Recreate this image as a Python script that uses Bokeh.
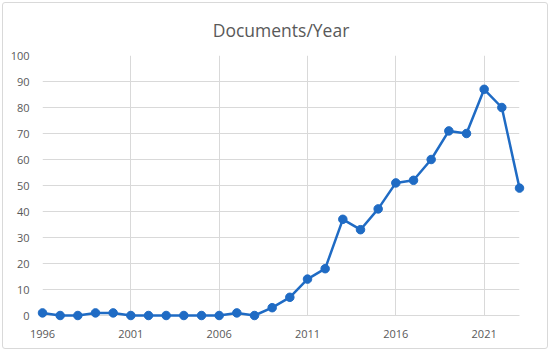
from bokeh.plotting import figure
from bokeh.models import Range1d, FixedTicker
from bokeh.embed import file_html
from bokeh.resources import INLINE

years = list(range(1996, 2024))
docs = [1, 0, 0, 1, 1, 0, 0, 0, 0, 0, 0, 1, 0, 3, 7, 14, 18, 37, 33, 41,
        51, 52, 60, 71, 70, 87, 80, 49]
x_ticks = [1996, 2001, 2006, 2011, 2016, 2021]
y_ticks = [0, 10, 20, 30, 40, 50, 60, 70, 80, 90, 100]
title_text = "Documents/Year"

FONT = "Open Sans"
GRAY = "#595959"
GRID = "#d9d9d9"
BLUE = "#1f6bc4"

p = figure(width=550, height=351, output_backend="svg", toolbar_location=None,
           x_range=Range1d(1996, 2023), y_range=Range1d(0, 100),
           min_border_left=42, min_border_right=31, min_border_top=55,
           min_border_bottom=36,
           styles={"outline": "1px solid #d9d9d9", "outline-offset": "-3px",
                   "border-radius": "5px", "background-color": "white"})
p.outline_line_color = None
p.background_fill_alpha = 0
p.border_fill_alpha = 0

p.title.text = title_text
p.title.align = "center"
p.title.text_font = FONT
p.title.text_font_size = "17.5px"
p.title.text_font_style = "normal"
p.title.text_color = GRAY
p.title.standoff = 27
p.title.offset = -8

p.xaxis.ticker = FixedTicker(ticks=x_ticks)
p.yaxis.ticker = FixedTicker(ticks=y_ticks)
for ax in (p.xaxis[0], p.yaxis[0]):
    ax.major_tick_line_color = None
    ax.minor_tick_line_color = None
    ax.major_label_text_font = FONT
    ax.major_label_text_font_size = "11px"
    ax.major_label_text_color = GRAY
p.xaxis.axis_line_color = GRID
p.xaxis.axis_line_width = 1
p.yaxis.axis_line_color = None
p.xaxis.major_label_standoff = 8
p.yaxis.major_label_standoff = 7

p.xgrid.grid_line_color = GRID
p.ygrid.grid_line_color = GRID
p.xgrid.grid_line_width = 1
p.ygrid.grid_line_width = 1

line = p.line(years, docs, line_color=BLUE, line_width=2.5)
line.level = "overlay"
pts = p.scatter(years, docs, size=8.5, fill_color=BLUE, line_color=BLUE)
pts.level = "overlay"

open("out.html", "w").write(file_html(p, INLINE))
